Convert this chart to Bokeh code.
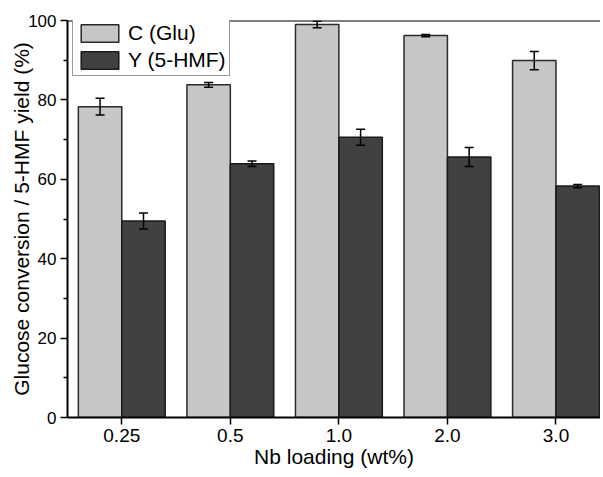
from bokeh.plotting import figure
from bokeh.models import (ColumnDataSource, Range1d, FixedTicker, Whisker, TeeHead,
                          Legend, LegendItem, Span)
from bokeh.transform import dodge
from bokeh.embed import file_html
from bokeh.resources import INLINE

categories = ["0.25", "0.5", "1.0", "2.0", "3.0"]
conv = [78.3, 83.8, 99.0, 96.2, 89.9]
conv_err = [2.1, 0.6, 0.8, 0.3, 2.3]
yld = [49.5, 63.9, 70.6, 65.6, 58.3]
yld_err = [2.0, 0.7, 2.0, 2.4, 0.4]
y_ticks = [0, 20, 40, 60, 80, 100]
y_minor = [10, 30, 50, 70, 90]

xpos = [i + 0.5 for i in range(len(categories))]
src = ColumnDataSource(dict(
    x=xpos, conv=conv, yld=yld,
    conv_lo=[v - e for v, e in zip(conv, conv_err)],
    conv_hi=[v + e for v, e in zip(conv, conv_err)],
    yld_lo=[v - e for v, e in zip(yld, yld_err)],
    yld_hi=[v + e for v, e in zip(yld, yld_err)],
))

FONT = "Liberation Sans"
p = figure(width=600, height=476, output_backend="svg", toolbar_location=None,
           x_range=Range1d(0, 4.91), y_range=Range1d(0, 100),
           min_border_left=67, min_border_top=20, min_border_bottom=59, min_border_right=0)
p.outline_line_color = None
p.grid.visible = False
p.background_fill_color = "white"

light = p.vbar(x=dodge("x", -0.2), top="conv", width=0.4, bottom=0, source=src,
               fill_color="#c6c6c6", line_color="#2a2a2a", line_width=1.5)
dark = p.vbar(x=dodge("x", 0.2), top="yld", width=0.4, bottom=0, source=src,
              fill_color="#414141", line_color="#1a1a1a", line_width=1.5)

for col, off in (("conv", -0.2), ("yld", 0.2)):
    w = Whisker(source=src, base=dodge("x", off), upper=col + "_hi", lower=col + "_lo",
                line_color="black", line_width=1.5, level="annotation",
                upper_head=TeeHead(size=9, line_width=1.5, line_color="black"),
                lower_head=TeeHead(size=9, line_width=1.5, line_color="black"))
    p.add_layout(w)

p.add_layout(Span(location=100, dimension="width", line_color="black", line_width=2))

p.xaxis.ticker = FixedTicker(ticks=xpos)
p.xaxis.major_label_overrides = {x: c for x, c in zip(xpos, categories)}
p.yaxis.ticker = FixedTicker(ticks=y_ticks, minor_ticks=y_minor)

for ax in (p.xaxis, p.yaxis):
    ax.axis_line_width = 2
    ax.axis_line_color = "black"
    ax.major_tick_line_color = "black"
    ax.major_tick_line_width = 1.5
    ax.major_tick_out = 7
    ax.major_tick_in = 0
    ax.minor_tick_out = 4
    ax.minor_tick_in = 0
    ax.minor_tick_line_width = 1.5
    ax.minor_tick_line_color = "black"
    ax.major_label_text_font = FONT
    ax.major_label_text_color = "black"
    ax.axis_label_text_font = FONT
    ax.axis_label_text_font_size = "21px"
    ax.axis_label_text_font_style = "normal"
    ax.axis_label_text_color = "black"
p.xaxis.major_label_text_font_size = "19px"
p.yaxis.major_label_text_font_size = "17px"
p.xaxis.minor_tick_line_color = None
p.xaxis.axis_label = "Nb loading (wt%)"
p.yaxis.axis_label = "Glucose conversion / 5-HMF yield (%)"
p.xaxis.axis_label_standoff = 0
p.yaxis.axis_label_standoff = -8
p.xaxis.major_label_standoff = 4
p.yaxis.major_label_standoff = 4

legend = Legend(items=[LegendItem(label="C (Glu)", renderers=[light]),
                       LegendItem(label="Y (5-HMF)", renderers=[dark])],
                location=(5, 341))
legend.margin = 0
legend.padding = 3
legend.spacing = 3
legend.glyph_width = 47
legend.glyph_height = 22
legend.label_standoff = 5
legend.label_height = 22
legend.label_text_font = FONT
legend.label_text_font_size = "21px"
legend.label_text_color = "black"
legend.border_line_color = "#333333"
legend.border_line_width = 1
legend.background_fill_alpha = 1
p.add_layout(legend)

open("out.html", "w").write(file_html(p, INLINE))
